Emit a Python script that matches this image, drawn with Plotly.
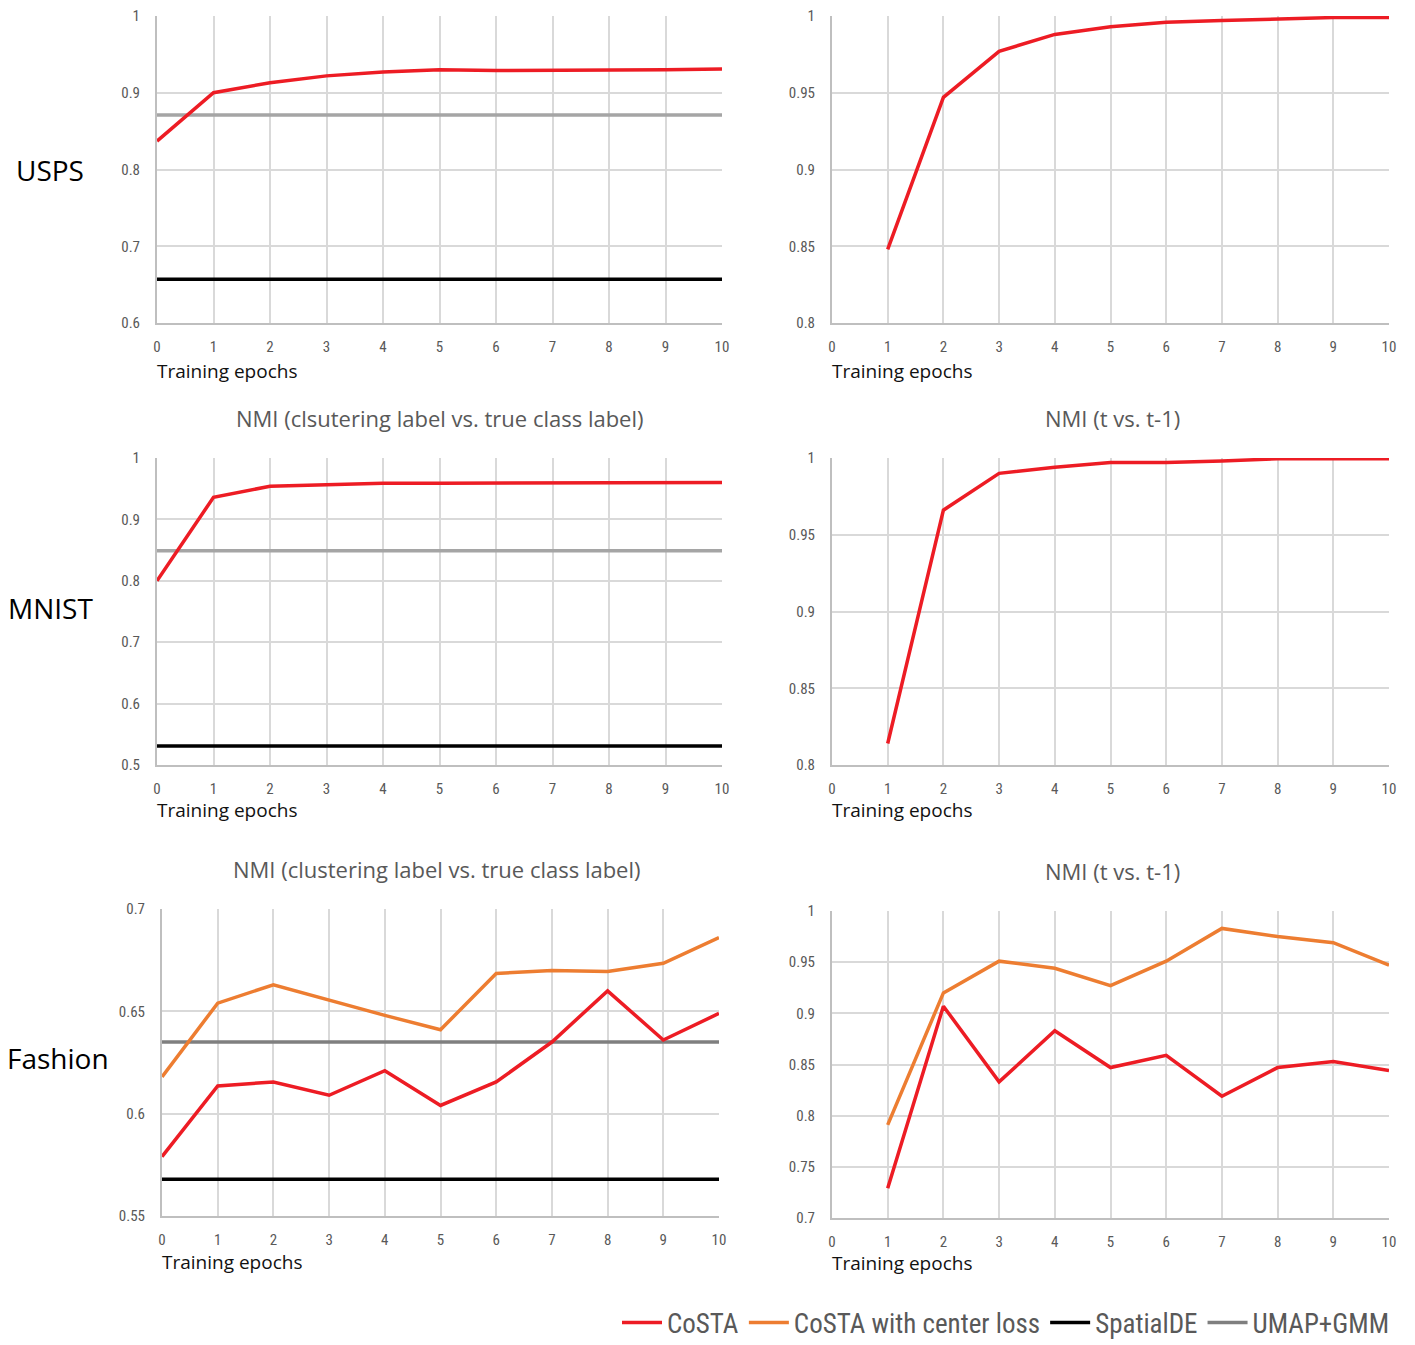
import plotly.graph_objects as go

# ---- data -------------------------------------------------------------
epochs_full = [0, 1, 2, 3, 4, 5, 6, 7, 8, 9, 10]
epochs_pair = [1, 2, 3, 4, 5, 6, 7, 8, 9, 10]

usps_costa = [0.837, 0.900, 0.913, 0.922, 0.927, 0.930, 0.929, 0.929, 0.930, 0.930, 0.931]
usps_umap = 0.871
usps_spatialde = 0.657
usps_tt1_costa = [0.848, 0.947, 0.977, 0.988, 0.993, 0.996, 0.997, 0.998, 0.999, 0.999]

mnist_costa = [0.800, 0.936, 0.954, 0.957, 0.959, 0.959, 0.959, 0.960, 0.960, 0.960, 0.960]
mnist_umap = 0.849
mnist_spatialde = 0.531
mnist_tt1_costa = [0.814, 0.966, 0.990, 0.994, 0.997, 0.997, 0.998, 0.9995, 0.9995, 0.9995]

fashion_costa = [0.579, 0.6135, 0.6155, 0.609, 0.621, 0.604, 0.6155, 0.635, 0.660, 0.636, 0.649]
fashion_center = [0.618, 0.654, 0.663, 0.6555, 0.648, 0.641, 0.6685, 0.670, 0.6695, 0.6735, 0.686]
fashion_umap = 0.635
fashion_spatialde = 0.568
fashion_tt1_costa = [0.729, 0.907, 0.833, 0.883, 0.847, 0.859, 0.819, 0.847, 0.853, 0.844]
fashion_tt1_center = [0.791, 0.920, 0.951, 0.944, 0.927, 0.951, 0.983, 0.975, 0.969, 0.947]

x_ticks = [0, 1, 2, 3, 4, 5, 6, 7, 8, 9, 10]
y_ticks_usps = [0.6, 0.7, 0.8, 0.9, 1.0]
y_labels_usps = ["0.6", "0.7", "0.8", "0.9", "1"]
y_ticks_mnist = [0.5, 0.6, 0.7, 0.8, 0.9, 1.0]
y_labels_mnist = ["0.5", "0.6", "0.7", "0.8", "0.9", "1"]
y_ticks_tt1 = [0.8, 0.85, 0.9, 0.95, 1.0]
y_labels_tt1 = ["0.8", "0.85", "0.9", "0.95", "1"]
y_ticks_fashion = [0.55, 0.6, 0.65, 0.7]
y_labels_fashion = ["0.55", "0.6", "0.65", "0.7"]
y_ticks_fashion_tt1 = [0.7, 0.75, 0.8, 0.85, 0.9, 0.95, 1.0]
y_labels_fashion_tt1 = ["0.7", "0.75", "0.8", "0.85", "0.9", "0.95", "1"]

row_names = ["USPS", "MNIST", "Fashion"]
title_left_mnist = "NMI (clsutering label vs. true class label)"
title_left_fashion = "NMI (clustering label vs. true class label)"
title_right = "NMI (t vs. t-1)"

# ---- styling ----------------------------------------------------------
W, H = 1415, 1345
RED = "#ED1C24"
ORANGE = "#ED7D31"
BLACK = "#000000"
GRAY_LIGHT = "#A5A5A5"
GRAY_DARK = "#7F7F7F"
GRID = "#D9D9D9"
TXT = "#595959"
FONT = "Open Sans, Noto Sans, sans-serif"
NARROW = "Liberation Sans Narrow, Roboto Condensed, Arial Narrow, sans-serif"

# panel boxes in pixels: (left, right, top, bottom)
boxes = [
    (157, 722, 16, 323), (832, 1389, 16, 323),
    (157, 722, 458, 765), (832, 1389, 458, 765),
    (162, 719, 909, 1216), (832, 1389, 911, 1218),
]

fig = go.Figure()
LW = 3.5


def add_line(i, x, y, color, name, show, rank, width=LW):
    ax = "" if i == 0 else str(i + 1)
    fig.add_trace(go.Scatter(
        x=x, y=y, mode="lines", name=name,
        line=dict(color=color, width=width),
        xaxis="x" + ax, yaxis="y" + ax,
        legendgroup=name, showlegend=show, legendrank=rank,
        hoverinfo="skip",
    ))


# USPS
add_line(0, epochs_full, [usps_spatialde] * 11, BLACK, "SpatialDE", False, 3)
add_line(0, epochs_full, [usps_umap] * 11, GRAY_LIGHT, "UMAP+GMM", False, 4)
add_line(0, epochs_full, usps_costa, RED, "CoSTA", False, 1)
add_line(1, epochs_pair, usps_tt1_costa, RED, "CoSTA", False, 1)
# MNIST
add_line(2, epochs_full, [mnist_spatialde] * 11, BLACK, "SpatialDE", False, 3)
add_line(2, epochs_full, [mnist_umap] * 11, GRAY_LIGHT, "UMAP+GMM", False, 4)
add_line(2, epochs_full, mnist_costa, RED, "CoSTA", False, 1)
add_line(3, epochs_pair, mnist_tt1_costa, RED, "CoSTA", False, 1)
# Fashion
add_line(4, epochs_full, [fashion_spatialde] * 11, BLACK, "SpatialDE", True, 3)
add_line(4, epochs_full, [fashion_umap] * 11, GRAY_DARK, "UMAP+GMM", True, 4)
add_line(4, epochs_full, fashion_center, ORANGE, "CoSTA with center loss", True, 2)
add_line(4, epochs_full, fashion_costa, RED, "CoSTA", True, 1)
add_line(5, epochs_pair, fashion_tt1_center, ORANGE, "CoSTA with center loss", False, 2)
add_line(5, epochs_pair, fashion_tt1_costa, RED, "CoSTA", False, 1)

y_specs = [
    ((0.6, 1.0), y_ticks_usps, y_labels_usps),
    ((0.8, 1.0), y_ticks_tt1, y_labels_tt1),
    ((0.5, 1.0), y_ticks_mnist, y_labels_mnist),
    ((0.8, 1.0), y_ticks_tt1, y_labels_tt1),
    ((0.55, 0.7), y_ticks_fashion, y_labels_fashion),
    ((0.7, 1.0), y_ticks_fashion_tt1, y_labels_fashion_tt1),
]

layout = {}
for i, ((l, r, t, b), (yr, yt, yl)) in enumerate(zip(boxes, y_specs)):
    ax = "" if i == 0 else str(i + 1)
    layout["xaxis" + ax] = dict(
        domain=[l / W, r / W], anchor="y" + ax, range=[0, 10],
        tickvals=x_ticks, ticktext=[str(v) for v in x_ticks],
        showgrid=True, gridcolor=GRID, gridwidth=2,
        showline=True, linecolor="#BFBFBF", linewidth=2,
        zeroline=False, ticks="", ticklabelstandoff=9,
        tickfont=dict(family=NARROW, size=15, color=TXT),
        automargin=False, fixedrange=True,
    )
    layout["yaxis" + ax] = dict(
        domain=[1 - b / H, 1 - t / H], anchor="x" + ax, range=list(yr),
        tickvals=yt, ticktext=yl,
        showgrid=True, gridcolor=GRID, gridwidth=2,
        showline=True, linecolor="#BFBFBF", linewidth=2,
        zeroline=False, ticks="", ticklabelstandoff=12,
        tickfont=dict(family=NARROW, size=15, color=TXT),
        automargin=False, fixedrange=True,
    )

annotations = []


def text(x_px, y_px, s, size, color, xanchor="center", family=FONT):
    annotations.append(dict(
        x=x_px / W, y=1 - y_px / H, xref="paper", yref="paper",
        text=s, showarrow=False, xanchor=xanchor, yanchor="middle",
        font=dict(family=family, size=size, color=color),
    ))


# row labels
text(50, 170, row_names[0], 28, "#000000")
text(50, 608, row_names[1], 28, "#000000")
text(58, 1058, row_names[2], 28, "#000000")

# panel titles
text(440, 418, title_left_mnist, 22, TXT)
text(1112, 418, title_right, 22, TXT)
text(437, 869, title_left_fashion, 22, TXT)
text(1112, 871, title_right, 22, TXT)

# x axis captions
for (l, r, t, b), yoff in zip(boxes, [48, 48, 45, 45, 46, 45]):
    text(l - 2, b + yoff, "Training epochs", 19, "#111111", xanchor="left")

fig.update_layout(
    width=W, height=H,
    margin=dict(l=0, r=0, t=0, b=0, pad=0, autoexpand=False),
    paper_bgcolor="white", plot_bgcolor="white",
    annotations=annotations,
    showlegend=True,
    legend=dict(
        orientation="h", x=1395 / W, xanchor="right",
        y=1 - 1323 / H, yanchor="middle",
        font=dict(family=NARROW, size=27, color=TXT),
        bgcolor="rgba(0,0,0,0)", itemwidth=40, tracegroupgap=0,
    ),
    **layout,
)

fig.write_html("out.html")
